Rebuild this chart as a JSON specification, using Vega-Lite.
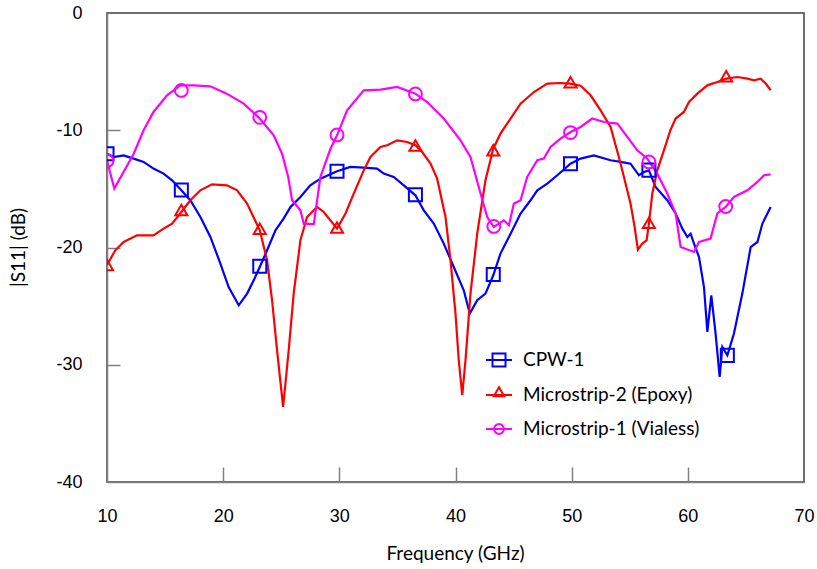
{
  "$schema": "https://vega.github.io/schema/vega-lite/v6.json",
  "autosize": "none",
  "width": 697,
  "height": 469,
  "padding": {"left": 107, "top": 13, "right": 13, "bottom": 87},
  "background": "white",
  "config": {
    "view": {"stroke": "#404040", "strokeWidth": 1.5},
    "axis": {
      "grid": false,
      "domainColor": "#808080",
      "domainWidth": 1.5,
      "tickColor": "#808080",
      "tickWidth": 1.5,
      "labelFont": "Liberation Sans",
      "labelFontSize": 18,
      "labelColor": "#000000",
      "titleFont": "Lato",
      "titleFontSize": 19,
      "titleFontWeight": "normal",
      "titleColor": "#000000"
    }
  },
  "datasets": {
    "curves": [
      {"s": "CPW-1", "f": 10, "db": -12.0},
      {"s": "CPW-1", "f": 10.57, "db": -12.28},
      {"s": "CPW-1", "f": 11.43, "db": -12.14},
      {"s": "CPW-1", "f": 12.29, "db": -12.42},
      {"s": "CPW-1", "f": 13.15, "db": -12.7},
      {"s": "CPW-1", "f": 14.0, "db": -13.27},
      {"s": "CPW-1", "f": 14.87, "db": -13.7},
      {"s": "CPW-1", "f": 15.6, "db": -14.27},
      {"s": "CPW-1", "f": 16.4, "db": -15.12},
      {"s": "CPW-1", "f": 17.17, "db": -15.97},
      {"s": "CPW-1", "f": 18.04, "db": -17.4},
      {"s": "CPW-1", "f": 18.9, "db": -19.1},
      {"s": "CPW-1", "f": 19.76, "db": -21.37},
      {"s": "CPW-1", "f": 20.47, "db": -23.37},
      {"s": "CPW-1", "f": 21.34, "db": -24.93},
      {"s": "CPW-1", "f": 22.06, "db": -23.93},
      {"s": "CPW-1", "f": 22.63, "db": -22.8},
      {"s": "CPW-1", "f": 23.15, "db": -21.66},
      {"s": "CPW-1", "f": 23.78, "db": -20.24},
      {"s": "CPW-1", "f": 24.5, "db": -18.53},
      {"s": "CPW-1", "f": 25.2, "db": -17.54},
      {"s": "CPW-1", "f": 25.8, "db": -16.54},
      {"s": "CPW-1", "f": 26.65, "db": -15.69},
      {"s": "CPW-1", "f": 27.5, "db": -14.7},
      {"s": "CPW-1", "f": 28.37, "db": -14.13},
      {"s": "CPW-1", "f": 29.8, "db": -13.5},
      {"s": "CPW-1", "f": 30.95, "db": -13.13},
      {"s": "CPW-1", "f": 32.1, "db": -13.19},
      {"s": "CPW-1", "f": 33.25, "db": -13.27},
      {"s": "CPW-1", "f": 33.82, "db": -13.7},
      {"s": "CPW-1", "f": 34.68, "db": -13.98},
      {"s": "CPW-1", "f": 35.55, "db": -14.7},
      {"s": "CPW-1", "f": 36.55, "db": -15.55},
      {"s": "CPW-1", "f": 37.27, "db": -16.83},
      {"s": "CPW-1", "f": 38.13, "db": -17.96},
      {"s": "CPW-1", "f": 38.99, "db": -19.67},
      {"s": "CPW-1", "f": 39.85, "db": -21.66},
      {"s": "CPW-1", "f": 40.71, "db": -23.65},
      {"s": "CPW-1", "f": 41.23, "db": -25.64},
      {"s": "CPW-1", "f": 41.87, "db": -24.5},
      {"s": "CPW-1", "f": 42.58, "db": -23.93},
      {"s": "CPW-1", "f": 43.25, "db": -22.37},
      {"s": "CPW-1", "f": 43.87, "db": -20.52},
      {"s": "CPW-1", "f": 44.74, "db": -18.82},
      {"s": "CPW-1", "f": 45.6, "db": -17.1},
      {"s": "CPW-1", "f": 46.46, "db": -15.97},
      {"s": "CPW-1", "f": 47.04, "db": -15.12},
      {"s": "CPW-1", "f": 47.9, "db": -14.55},
      {"s": "CPW-1", "f": 48.76, "db": -13.84},
      {"s": "CPW-1", "f": 49.9, "db": -12.85},
      {"s": "CPW-1", "f": 50.77, "db": -12.42},
      {"s": "CPW-1", "f": 51.91, "db": -12.14},
      {"s": "CPW-1", "f": 53.35, "db": -12.56},
      {"s": "CPW-1", "f": 54.21, "db": -12.7},
      {"s": "CPW-1", "f": 55.07, "db": -12.85},
      {"s": "CPW-1", "f": 55.79, "db": -13.84},
      {"s": "CPW-1", "f": 56.22, "db": -13.56},
      {"s": "CPW-1", "f": 56.65, "db": -13.42},
      {"s": "CPW-1", "f": 57.22, "db": -14.84},
      {"s": "CPW-1", "f": 58.23, "db": -15.97},
      {"s": "CPW-1", "f": 58.95, "db": -17.1},
      {"s": "CPW-1", "f": 59.53, "db": -18.39},
      {"s": "CPW-1", "f": 59.96, "db": -19.1},
      {"s": "CPW-1", "f": 60.24, "db": -18.82},
      {"s": "CPW-1", "f": 60.53, "db": -19.67},
      {"s": "CPW-1", "f": 60.96, "db": -20.81},
      {"s": "CPW-1", "f": 61.39, "db": -23.37},
      {"s": "CPW-1", "f": 61.68, "db": -27.2},
      {"s": "CPW-1", "f": 62.02, "db": -24.08},
      {"s": "CPW-1", "f": 62.39, "db": -27.34},
      {"s": "CPW-1", "f": 62.74, "db": -31.04},
      {"s": "CPW-1", "f": 62.97, "db": -28.49},
      {"s": "CPW-1", "f": 63.4, "db": -29.2},
      {"s": "CPW-1", "f": 63.97, "db": -27.34},
      {"s": "CPW-1", "f": 64.69, "db": -23.93},
      {"s": "CPW-1", "f": 65.41, "db": -19.96},
      {"s": "CPW-1", "f": 65.99, "db": -19.53},
      {"s": "CPW-1", "f": 66.42, "db": -17.96},
      {"s": "CPW-1", "f": 67.13, "db": -16.54},

      {"s": "Microstrip-2 (Epoxy)", "f": 10, "db": -21.5},
      {"s": "Microstrip-2 (Epoxy)", "f": 10.71, "db": -20.24},
      {"s": "Microstrip-2 (Epoxy)", "f": 11.43, "db": -19.53},
      {"s": "Microstrip-2 (Epoxy)", "f": 12.58, "db": -18.96},
      {"s": "Microstrip-2 (Epoxy)", "f": 14.0, "db": -18.96},
      {"s": "Microstrip-2 (Epoxy)", "f": 14.87, "db": -18.39},
      {"s": "Microstrip-2 (Epoxy)", "f": 15.6, "db": -17.96},
      {"s": "Microstrip-2 (Epoxy)", "f": 16.4, "db": -16.97},
      {"s": "Microstrip-2 (Epoxy)", "f": 17.17, "db": -15.97},
      {"s": "Microstrip-2 (Epoxy)", "f": 18.04, "db": -15.12},
      {"s": "Microstrip-2 (Epoxy)", "f": 19.04, "db": -14.61},
      {"s": "Microstrip-2 (Epoxy)", "f": 20.33, "db": -14.7},
      {"s": "Microstrip-2 (Epoxy)", "f": 21.2, "db": -15.12},
      {"s": "Microstrip-2 (Epoxy)", "f": 22.06, "db": -16.26},
      {"s": "Microstrip-2 (Epoxy)", "f": 23.15, "db": -18.53},
      {"s": "Microstrip-2 (Epoxy)", "f": 23.78, "db": -21.09},
      {"s": "Microstrip-2 (Epoxy)", "f": 24.21, "db": -24.5},
      {"s": "Microstrip-2 (Epoxy)", "f": 24.64, "db": -28.77},
      {"s": "Microstrip-2 (Epoxy)", "f": 25.16, "db": -33.6},
      {"s": "Microstrip-2 (Epoxy)", "f": 25.64, "db": -28.77},
      {"s": "Microstrip-2 (Epoxy)", "f": 26.07, "db": -23.93},
      {"s": "Microstrip-2 (Epoxy)", "f": 26.65, "db": -19.38},
      {"s": "Microstrip-2 (Epoxy)", "f": 27.22, "db": -17.4},
      {"s": "Microstrip-2 (Epoxy)", "f": 28.08, "db": -16.54},
      {"s": "Microstrip-2 (Epoxy)", "f": 28.66, "db": -16.97},
      {"s": "Microstrip-2 (Epoxy)", "f": 29.8, "db": -18.39},
      {"s": "Microstrip-2 (Epoxy)", "f": 30.53, "db": -17.1},
      {"s": "Microstrip-2 (Epoxy)", "f": 31.24, "db": -15.4},
      {"s": "Microstrip-2 (Epoxy)", "f": 32.1, "db": -13.42},
      {"s": "Microstrip-2 (Epoxy)", "f": 32.68, "db": -12.28},
      {"s": "Microstrip-2 (Epoxy)", "f": 33.54, "db": -11.43},
      {"s": "Microstrip-2 (Epoxy)", "f": 34.12, "db": -11.28},
      {"s": "Microstrip-2 (Epoxy)", "f": 34.98, "db": -10.86},
      {"s": "Microstrip-2 (Epoxy)", "f": 35.84, "db": -11.0},
      {"s": "Microstrip-2 (Epoxy)", "f": 36.55, "db": -11.28},
      {"s": "Microstrip-2 (Epoxy)", "f": 37.13, "db": -11.86},
      {"s": "Microstrip-2 (Epoxy)", "f": 37.85, "db": -12.85},
      {"s": "Microstrip-2 (Epoxy)", "f": 38.42, "db": -14.13},
      {"s": "Microstrip-2 (Epoxy)", "f": 39.14, "db": -17.4},
      {"s": "Microstrip-2 (Epoxy)", "f": 39.57, "db": -21.09},
      {"s": "Microstrip-2 (Epoxy)", "f": 40.0, "db": -25.64},
      {"s": "Microstrip-2 (Epoxy)", "f": 40.28, "db": -29.62},
      {"s": "Microstrip-2 (Epoxy)", "f": 40.58, "db": -32.6},
      {"s": "Microstrip-2 (Epoxy)", "f": 40.86, "db": -29.62},
      {"s": "Microstrip-2 (Epoxy)", "f": 41.29, "db": -23.93},
      {"s": "Microstrip-2 (Epoxy)", "f": 41.87, "db": -18.82},
      {"s": "Microstrip-2 (Epoxy)", "f": 42.58, "db": -14.27},
      {"s": "Microstrip-2 (Epoxy)", "f": 43.25, "db": -11.57},
      {"s": "Microstrip-2 (Epoxy)", "f": 43.87, "db": -10.29},
      {"s": "Microstrip-2 (Epoxy)", "f": 44.74, "db": -9.0},
      {"s": "Microstrip-2 (Epoxy)", "f": 45.6, "db": -7.73},
      {"s": "Microstrip-2 (Epoxy)", "f": 46.75, "db": -6.74},
      {"s": "Microstrip-2 (Epoxy)", "f": 47.9, "db": -6.02},
      {"s": "Microstrip-2 (Epoxy)", "f": 49.04, "db": -5.97},
      {"s": "Microstrip-2 (Epoxy)", "f": 49.85, "db": -6.02},
      {"s": "Microstrip-2 (Epoxy)", "f": 50.77, "db": -6.2},
      {"s": "Microstrip-2 (Epoxy)", "f": 51.63, "db": -7.02},
      {"s": "Microstrip-2 (Epoxy)", "f": 52.49, "db": -8.3},
      {"s": "Microstrip-2 (Epoxy)", "f": 53.35, "db": -9.72},
      {"s": "Microstrip-2 (Epoxy)", "f": 54.06, "db": -12.28},
      {"s": "Microstrip-2 (Epoxy)", "f": 54.5, "db": -13.99},
      {"s": "Microstrip-2 (Epoxy)", "f": 55.07, "db": -16.26},
      {"s": "Microstrip-2 (Epoxy)", "f": 55.42, "db": -18.25},
      {"s": "Microstrip-2 (Epoxy)", "f": 55.7, "db": -20.18},
      {"s": "Microstrip-2 (Epoxy)", "f": 56.08, "db": -19.67},
      {"s": "Microstrip-2 (Epoxy)", "f": 56.45, "db": -19.39},
      {"s": "Microstrip-2 (Epoxy)", "f": 56.65, "db": -17.96},
      {"s": "Microstrip-2 (Epoxy)", "f": 56.94, "db": -15.4},
      {"s": "Microstrip-2 (Epoxy)", "f": 57.37, "db": -13.42},
      {"s": "Microstrip-2 (Epoxy)", "f": 57.94, "db": -11.71},
      {"s": "Microstrip-2 (Epoxy)", "f": 58.5, "db": -10.0},
      {"s": "Microstrip-2 (Epoxy)", "f": 58.95, "db": -9.0},
      {"s": "Microstrip-2 (Epoxy)", "f": 59.66, "db": -8.44},
      {"s": "Microstrip-2 (Epoxy)", "f": 60.1, "db": -7.59},
      {"s": "Microstrip-2 (Epoxy)", "f": 60.82, "db": -6.88},
      {"s": "Microstrip-2 (Epoxy)", "f": 61.68, "db": -6.17},
      {"s": "Microstrip-2 (Epoxy)", "f": 62.54, "db": -5.88},
      {"s": "Microstrip-2 (Epoxy)", "f": 63.32, "db": -5.6},
      {"s": "Microstrip-2 (Epoxy)", "f": 64.26, "db": -5.46},
      {"s": "Microstrip-2 (Epoxy)", "f": 65.13, "db": -5.6},
      {"s": "Microstrip-2 (Epoxy)", "f": 65.7, "db": -5.74},
      {"s": "Microstrip-2 (Epoxy)", "f": 66.27, "db": -5.6},
      {"s": "Microstrip-2 (Epoxy)", "f": 66.7, "db": -6.02},
      {"s": "Microstrip-2 (Epoxy)", "f": 67.13, "db": -6.59},

      {"s": "Microstrip-1 (Vialess)", "f": 10, "db": -12.6},
      {"s": "Microstrip-1 (Vialess)", "f": 10.63, "db": -14.98},
      {"s": "Microstrip-1 (Vialess)", "f": 12.3, "db": -12.0},
      {"s": "Microstrip-1 (Vialess)", "f": 13.15, "db": -10.0},
      {"s": "Microstrip-1 (Vialess)", "f": 14.0, "db": -8.44},
      {"s": "Microstrip-1 (Vialess)", "f": 15.17, "db": -7.02},
      {"s": "Microstrip-1 (Vialess)", "f": 16.3, "db": -6.17},
      {"s": "Microstrip-1 (Vialess)", "f": 17.46, "db": -6.17},
      {"s": "Microstrip-1 (Vialess)", "f": 18.9, "db": -6.25},
      {"s": "Microstrip-1 (Vialess)", "f": 20.3, "db": -6.88},
      {"s": "Microstrip-1 (Vialess)", "f": 21.77, "db": -7.73},
      {"s": "Microstrip-1 (Vialess)", "f": 23.15, "db": -9.0},
      {"s": "Microstrip-1 (Vialess)", "f": 24.35, "db": -10.43},
      {"s": "Microstrip-1 (Vialess)", "f": 25.07, "db": -12.0},
      {"s": "Microstrip-1 (Vialess)", "f": 25.6, "db": -13.98},
      {"s": "Microstrip-1 (Vialess)", "f": 25.93, "db": -15.97},
      {"s": "Microstrip-1 (Vialess)", "f": 26.65, "db": -16.83},
      {"s": "Microstrip-1 (Vialess)", "f": 26.93, "db": -17.96},
      {"s": "Microstrip-1 (Vialess)", "f": 27.8, "db": -18.0},
      {"s": "Microstrip-1 (Vialess)", "f": 28.37, "db": -13.98},
      {"s": "Microstrip-1 (Vialess)", "f": 29.23, "db": -11.6},
      {"s": "Microstrip-1 (Vialess)", "f": 29.8, "db": -10.43},
      {"s": "Microstrip-1 (Vialess)", "f": 30.67, "db": -8.3},
      {"s": "Microstrip-1 (Vialess)", "f": 32.1, "db": -6.6},
      {"s": "Microstrip-1 (Vialess)", "f": 33.54, "db": -6.53},
      {"s": "Microstrip-1 (Vialess)", "f": 34.98, "db": -6.31},
      {"s": "Microstrip-1 (Vialess)", "f": 36.55, "db": -6.88},
      {"s": "Microstrip-1 (Vialess)", "f": 37.56, "db": -7.59},
      {"s": "Microstrip-1 (Vialess)", "f": 38.99, "db": -9.0},
      {"s": "Microstrip-1 (Vialess)", "f": 40.43, "db": -10.86},
      {"s": "Microstrip-1 (Vialess)", "f": 41.29, "db": -12.28},
      {"s": "Microstrip-1 (Vialess)", "f": 42.0, "db": -14.84},
      {"s": "Microstrip-1 (Vialess)", "f": 42.73, "db": -17.4},
      {"s": "Microstrip-1 (Vialess)", "f": 43.3, "db": -18.25},
      {"s": "Microstrip-1 (Vialess)", "f": 44.16, "db": -17.68},
      {"s": "Microstrip-1 (Vialess)", "f": 44.6, "db": -18.1},
      {"s": "Microstrip-1 (Vialess)", "f": 45.02, "db": -16.26},
      {"s": "Microstrip-1 (Vialess)", "f": 45.6, "db": -15.97},
      {"s": "Microstrip-1 (Vialess)", "f": 46.17, "db": -13.99},
      {"s": "Microstrip-1 (Vialess)", "f": 47.04, "db": -12.56},
      {"s": "Microstrip-1 (Vialess)", "f": 47.6, "db": -12.42},
      {"s": "Microstrip-1 (Vialess)", "f": 48.18, "db": -11.43},
      {"s": "Microstrip-1 (Vialess)", "f": 49.04, "db": -10.71},
      {"s": "Microstrip-1 (Vialess)", "f": 49.9, "db": -10.15},
      {"s": "Microstrip-1 (Vialess)", "f": 50.77, "db": -9.72},
      {"s": "Microstrip-1 (Vialess)", "f": 51.77, "db": -9.0},
      {"s": "Microstrip-1 (Vialess)", "f": 52.78, "db": -9.3},
      {"s": "Microstrip-1 (Vialess)", "f": 53.93, "db": -9.43},
      {"s": "Microstrip-1 (Vialess)", "f": 54.79, "db": -10.57},
      {"s": "Microstrip-1 (Vialess)", "f": 55.65, "db": -11.71},
      {"s": "Microstrip-1 (Vialess)", "f": 56.51, "db": -12.42},
      {"s": "Microstrip-1 (Vialess)", "f": 57.37, "db": -13.7},
      {"s": "Microstrip-1 (Vialess)", "f": 58.23, "db": -15.4},
      {"s": "Microstrip-1 (Vialess)", "f": 58.95, "db": -17.1},
      {"s": "Microstrip-1 (Vialess)", "f": 59.38, "db": -19.96},
      {"s": "Microstrip-1 (Vialess)", "f": 60.53, "db": -20.38},
      {"s": "Microstrip-1 (Vialess)", "f": 60.96, "db": -19.53},
      {"s": "Microstrip-1 (Vialess)", "f": 61.96, "db": -19.24},
      {"s": "Microstrip-1 (Vialess)", "f": 62.54, "db": -17.1},
      {"s": "Microstrip-1 (Vialess)", "f": 63.26, "db": -16.54},
      {"s": "Microstrip-1 (Vialess)", "f": 63.97, "db": -15.69},
      {"s": "Microstrip-1 (Vialess)", "f": 65.13, "db": -15.12},
      {"s": "Microstrip-1 (Vialess)", "f": 65.99, "db": -14.41},
      {"s": "Microstrip-1 (Vialess)", "f": 66.56, "db": -13.84},
      {"s": "Microstrip-1 (Vialess)", "f": 67.13, "db": -13.76}
    ],
    "markers": [
      {"s": "CPW-1", "f": 10, "db": -12.0},
      {"s": "CPW-1", "f": 16.4, "db": -15.1},
      {"s": "CPW-1", "f": 23.15, "db": -21.6},
      {"s": "CPW-1", "f": 29.8, "db": -13.5},
      {"s": "CPW-1", "f": 36.55, "db": -15.5},
      {"s": "CPW-1", "f": 43.25, "db": -22.3},
      {"s": "CPW-1", "f": 49.9, "db": -12.85},
      {"s": "CPW-1", "f": 56.65, "db": -13.4},
      {"s": "CPW-1", "f": 63.4, "db": -29.2},
      {"s": "Microstrip-2 (Epoxy)", "f": 10, "db": -21.5},
      {"s": "Microstrip-2 (Epoxy)", "f": 16.4, "db": -16.8},
      {"s": "Microstrip-2 (Epoxy)", "f": 23.15, "db": -18.4},
      {"s": "Microstrip-2 (Epoxy)", "f": 29.8, "db": -18.3},
      {"s": "Microstrip-2 (Epoxy)", "f": 36.55, "db": -11.3},
      {"s": "Microstrip-2 (Epoxy)", "f": 43.25, "db": -11.7},
      {"s": "Microstrip-2 (Epoxy)", "f": 49.9, "db": -5.9},
      {"s": "Microstrip-2 (Epoxy)", "f": 56.65, "db": -17.9},
      {"s": "Microstrip-2 (Epoxy)", "f": 63.3, "db": -5.4},
      {"s": "Microstrip-1 (Vialess)", "f": 10, "db": -12.6},
      {"s": "Microstrip-1 (Vialess)", "f": 16.4, "db": -6.6},
      {"s": "Microstrip-1 (Vialess)", "f": 23.15, "db": -8.9},
      {"s": "Microstrip-1 (Vialess)", "f": 29.8, "db": -10.4},
      {"s": "Microstrip-1 (Vialess)", "f": 36.55, "db": -6.9},
      {"s": "Microstrip-1 (Vialess)", "f": 43.3, "db": -18.2},
      {"s": "Microstrip-1 (Vialess)", "f": 49.9, "db": -10.2},
      {"s": "Microstrip-1 (Vialess)", "f": 56.65, "db": -12.7},
      {"s": "Microstrip-1 (Vialess)", "f": 63.26, "db": -16.5}
    ]
  },
  "resolve": {
    "axis": {"x": "independent", "y": "independent"},
    "scale": {"color": "independent", "shape": "independent"},
    "legend": {"color": "independent", "shape": "independent"}
  },
  "layer": [
    {
      "data": {"name": "curves"},
      "mark": {"type": "line", "strokeWidth": 2.2, "clip": true, "interpolate": "linear"},
      "encoding": {
        "x": {
          "field": "f", "type": "quantitative",
          "scale": {"domain": [10, 70], "nice": false, "zero": false},
          "axis": {
            "values": [10, 20, 30, 40, 50, 60, 70],
            "title": "Frequency (GHz)",
            "ticks": false,
            "tickSize": 0,
            "labelPadding": 25,
            "labelFlush": false,
            "titleX": 348,
            "titleY": 71,
            "titleBaseline": "middle"
          }
        },
        "y": {
          "field": "db", "type": "quantitative",
          "scale": {"domain": [-40, 0], "nice": false, "zero": false},
          "axis": {
            "values": [-40, -30, -20, -10, 0],
            "title": "|S11| (dB)",
            "ticks": false,
            "tickSize": 0,
            "labelPadding": 25,
            "labelFlush": false,
            "labelExpr": "datum.value < 0 ? '-' + abs(datum.value) : '' + datum.value",
            "titleX": -89,
            "titleY": 234,
            "titleBaseline": "middle"
          }
        },
        "stroke": {
          "field": "s", "type": "nominal",
          "scale": {
            "domain": ["CPW-1", "Microstrip-2 (Epoxy)", "Microstrip-1 (Vialess)"],
            "range": ["#0000ff", "#ff0000", "#ff00ff"]
          },
          "legend": null
        }
      }
    },
    {
      "data": {"name": "markers"},
      "transform": [{"filter": "datum.s === 'CPW-1'"}],
      "mark": {"type": "point", "shape": "square", "filled": false, "strokeWidth": 2, "size": 170, "opacity": 1, "clip": true, "color": "#0000ff"},
      "encoding": {
        "x": {
          "field": "f", "type": "quantitative",
          "axis": {
            "orient": "top", "offset": -469, "values": [20, 30, 40, 50, 60],
            "domain": false, "labels": false, "ticks": true, "tickSize": 15, "title": null
          }
        },
        "y": {
          "field": "db", "type": "quantitative",
          "axis": {
            "orient": "right", "offset": -697, "values": [-30, -20, -10],
            "domain": false, "labels": false, "ticks": true, "tickSize": 13, "title": null
          }
        }
      }
    },
    {
      "data": {"name": "markers"},
      "transform": [{"filter": "datum.s === 'Microstrip-2 (Epoxy)'"}],
      "mark": {"type": "point", "shape": "triangle-up", "filled": false, "strokeWidth": 2, "size": 145, "opacity": 1, "clip": true, "color": "#ff0000"},
      "encoding": {
        "x": {"field": "f", "type": "quantitative", "axis": null},
        "y": {"field": "db", "type": "quantitative", "axis": null}
      }
    },
    {
      "data": {"name": "markers"},
      "transform": [{"filter": "datum.s === 'Microstrip-1 (Vialess)'"}],
      "mark": {"type": "point", "shape": "circle", "filled": false, "strokeWidth": 2, "size": 165, "opacity": 1, "clip": true, "color": "#ff00ff"},
      "encoding": {
        "x": {"field": "f", "type": "quantitative", "axis": null},
        "y": {"field": "db", "type": "quantitative", "axis": null}
      }
    },
    {
      "data": {"name": "markers"},
      "transform": [{"filter": "false"}],
      "mark": {"type": "point", "filled": false, "strokeWidth": 2, "size": 676},
      "encoding": {
        "x": {"field": "f", "type": "quantitative", "axis": null},
        "y": {"field": "db", "type": "quantitative", "axis": null},
        "color": {
          "field": "s", "type": "nominal",
          "scale": {
            "domain": ["CPW-1", "Microstrip-2 (Epoxy)", "Microstrip-1 (Vialess)"],
            "range": ["#0000ff", "#ff0000", "#ff00ff"]
          },
          "legend": {
            "title": null,
            "orient": "none",
            "legendX": 378,
            "legendY": 333,
            "padding": 0,
            "rowPadding": 10,
            "symbolSize": 676,
            "symbolStrokeWidth": 2,
            "symbolFillColor": "transparent",
            "symbolOpacity": 1,
            "labelFont": "Lato",
            "labelFontSize": 19,
            "labelColor": "#000000",
            "labelOffset": 10,
            "labelLimit": 400
          }
        },
        "shape": {
          "field": "s", "type": "nominal",
          "scale": {
            "domain": ["CPW-1", "Microstrip-2 (Epoxy)", "Microstrip-1 (Vialess)"],
            "range": [
              "M-1,0H1M-0.5,-0.5H0.5V0.5H-0.5Z",
              "M-1,0H1M0,-0.6L0.4,0.1L-0.4,0.1Z",
              "M-1,0H1M-0.38,0A0.38,0.38,0,1,1,0.38,0A0.38,0.38,0,1,1,-0.38,0Z"
            ]
          },
          "legend": {
            "title": null,
            "orient": "none",
            "legendX": 378,
            "legendY": 333,
            "padding": 0,
            "rowPadding": 10,
            "symbolSize": 676,
            "symbolStrokeWidth": 2,
            "symbolFillColor": "transparent",
            "symbolOpacity": 1,
            "labelFont": "Lato",
            "labelFontSize": 19,
            "labelColor": "#000000",
            "labelOffset": 10,
            "labelLimit": 400
          }
        }
      }
    }
  ]
}
